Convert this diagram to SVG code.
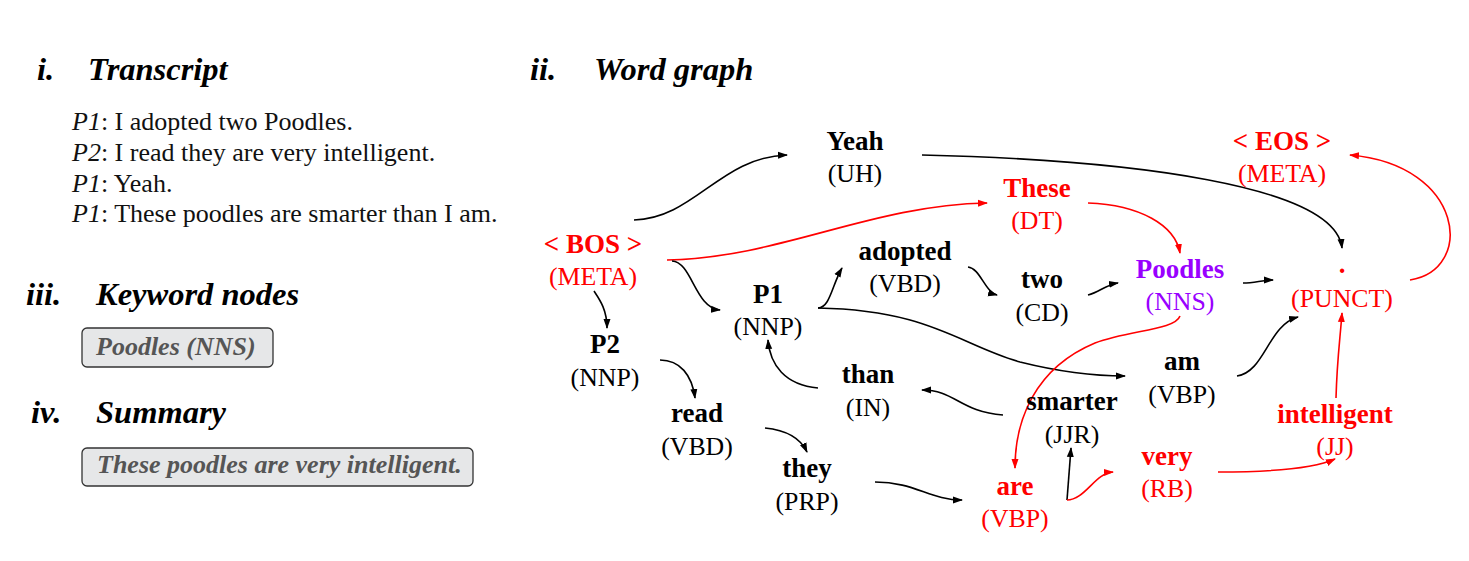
<svg xmlns="http://www.w3.org/2000/svg" width="1469" height="561" viewBox="0 0 1469 561">
<style>
text{font-family:"Liberation Serif","Times New Roman",serif;}
.h{font-size:32.5px;font-weight:bold;font-style:italic;fill:#000;}
.t{font-size:26px;fill:#111;}
.bx{fill:#e6e7e8;stroke:#333;stroke-width:1.3;}
.bt{font-size:26px;font-weight:bold;font-style:italic;fill:#555;}
.w{font-size:27px;font-weight:bold;text-anchor:middle;}
.p{font-size:25.8px;text-anchor:middle;}
.k{fill:#000;}
.r{fill:#ff0000;}
.v{fill:#9900ff;}
.e{fill:none;stroke-width:1.6;}
.eb{stroke:#000;marker-end:url(#ab);}
.er{stroke:#ff0000;marker-end:url(#ar);}
</style>
<defs>
<marker id="ab" markerUnits="userSpaceOnUse" markerWidth="10" markerHeight="8" refX="9" refY="4" orient="auto"><path d="M0,0.5 L10,4 L0,7.5 z" fill="#000"/></marker>
<marker id="ar" markerUnits="userSpaceOnUse" markerWidth="10" markerHeight="8" refX="9" refY="4" orient="auto"><path d="M0,0.5 L10,4 L0,7.5 z" fill="#ff0000"/></marker>
</defs>
<rect width="1469" height="561" fill="#fff"/>

<g id="transcript">
<text class="h" x="37" y="80">i.</text>
<text class="h" x="88" y="80">Transcript</text>
<text class="t" x="72" y="130"><tspan font-style="italic">P1</tspan>: I adopted two Poodles.</text>
<text class="t" x="72" y="161"><tspan font-style="italic">P2</tspan>: I read they are very intelligent.</text>
<text class="t" x="72" y="192"><tspan font-style="italic">P1</tspan>: Yeah.</text>
<text class="t" x="72" y="222"><tspan font-style="italic">P1</tspan>: These poodles are smarter than I am.</text>
</g>
<g id="keywords">
<text class="h" x="26" y="305">iii.</text>
<text class="h" x="96" y="305">Keyword nodes</text>
<rect class="bx" x="82" y="328" width="191" height="39" rx="5"/>
<text class="bt" x="96" y="355">Poodles (NNS)</text>
</g>
<g id="summary">
<text class="h" x="31" y="423">iv.</text>
<text class="h" x="96" y="423">Summary</text>
<rect class="bx" x="82" y="448" width="391" height="38" rx="5"/>
<text class="bt" x="97" y="473">These poodles are very intelligent.</text>
</g>
<g id="graph-title">
<text class="h" x="530" y="80">ii.</text>
<text class="h" x="594" y="80">Word graph</text>
</g>

<g id="connectors">
<path class="e eb" d="M634,220 C695,218 720,157 787,155"/>
<path class="e er" d="M667,260 C780,258 870,205 987,203"/>
<path class="e eb" d="M672,261 C692,262 695,308 720,310"/>
<path class="e eb" d="M594,291 C600,300 607,310 607,328"/>
<path class="e eb" d="M818,308 C830,308 832,285 842,268"/>
<path class="e eb" d="M818,308 C930,310 960,345 1020,362 C1060,372 1095,376 1125,376"/>
<path class="e eb" d="M968,267 C980,268 985,292 997,295"/>
<path class="e eb" d="M1088,295 C1100,292 1105,285 1118,283"/>
<path class="e eb" d="M1243,283 C1255,283 1262,280 1273,280"/>
<path class="e eb" d="M922,155 C1130,160 1335,185 1342,248"/>
<path class="e er" d="M1088,203 C1140,205 1175,225 1180,253"/>
<path class="e er" d="M1410,280 C1475,270 1465,165 1350,155"/>
<path class="e er" d="M1180,316 C1175,330 1130,330 1095,343 C1035,368 1015,420 1015,468"/>
<path class="e eb" d="M1003,415 C960,412 955,390 922,390"/>
<path class="e eb" d="M818,388 C785,385 770,365 768,340"/>
<path class="e eb" d="M660,360 C680,360 692,375 695,398"/>
<path class="e eb" d="M765,428 C785,430 800,437 807,452"/>
<path class="e eb" d="M875,482 C915,482 930,500 962,500"/>
<path class="e eb" d="M1067,500 L1071,448"/>
<path class="e er" d="M1067,500 C1085,500 1095,473 1113,472"/>
<path class="e er" d="M1218,472 C1280,472 1315,468 1335,459"/>
<path class="e er" d="M1336,398 C1337,360 1340,340 1342,313"/>
<path class="e eb" d="M1237,376 C1265,372 1268,325 1298,317"/>
</g>

<g id="node-bos"><text class="w r" x="593" y="253">&lt; BOS &gt;</text><text class="p r" x="593" y="285">(META)</text></g>
<g id="node-yeah"><text class="w k" x="855" y="150">Yeah</text><text class="p k" x="855" y="182">(UH)</text></g>
<g id="node-eos"><text class="w r" x="1282" y="150">&lt; EOS &gt;</text><text class="p r" x="1282" y="182">(META)</text></g>
<g id="node-these"><text class="w r" x="1037" y="197">These</text><text class="p r" x="1037" y="229">(DT)</text></g>
<g id="node-adopted"><text class="w k" x="905" y="260">adopted</text><text class="p k" x="905" y="292">(VBD)</text></g>
<g id="node-p1"><text class="w k" x="768" y="303">P1</text><text class="p k" x="768" y="335">(NNP)</text></g>
<g id="node-two"><text class="w k" x="1042" y="288">two</text><text class="p k" x="1042" y="321">(CD)</text></g>
<g id="node-poodles"><text class="w v" x="1180" y="278">Poodles</text><text class="p v" x="1180" y="310">(NNS)</text></g>
<g id="node-punct"><text class="w r" x="1342" y="273">.</text><text class="p r" x="1342" y="307">(PUNCT)</text></g>
<g id="node-p2"><text class="w k" x="605" y="353">P2</text><text class="p k" x="605" y="386">(NNP)</text></g>
<g id="node-than"><text class="w k" x="868" y="383">than</text><text class="p k" x="868" y="416">(IN)</text></g>
<g id="node-am"><text class="w k" x="1182" y="370">am</text><text class="p k" x="1182" y="403">(VBP)</text></g>
<g id="node-smarter"><text class="w k" x="1072" y="410">smarter</text><text class="p k" x="1072" y="443">(JJR)</text></g>
<g id="node-read"><text class="w k" x="697" y="422">read</text><text class="p k" x="697" y="455">(VBD)</text></g>
<g id="node-intelligent"><text class="w r" x="1335" y="423">intelligent</text><text class="p r" x="1335" y="455">(JJ)</text></g>
<g id="node-very"><text class="w r" x="1167" y="465">very</text><text class="p r" x="1167" y="497">(RB)</text></g>
<g id="node-they"><text class="w k" x="807" y="477">they</text><text class="p k" x="807" y="510">(PRP)</text></g>
<g id="node-are"><text class="w r" x="1015" y="495">are</text><text class="p r" x="1015" y="527">(VBP)</text></g>
</svg>
